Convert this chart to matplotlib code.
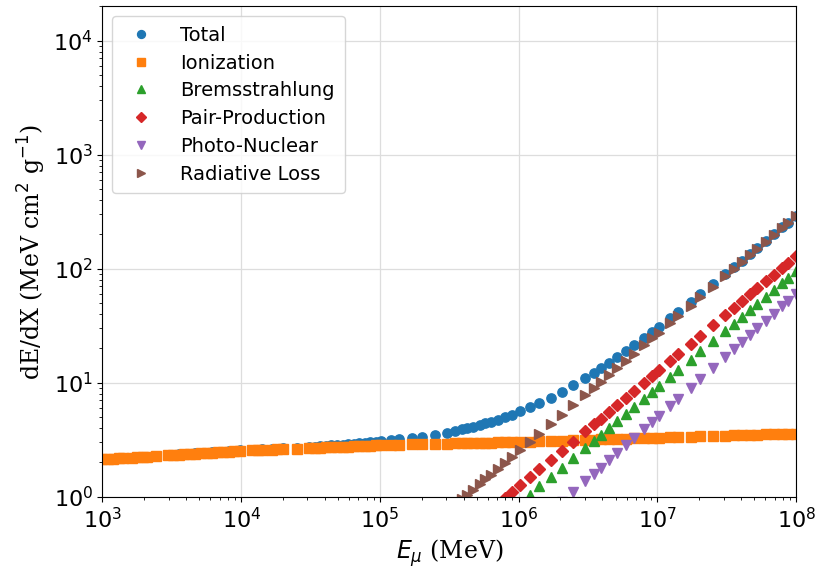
import matplotlib
matplotlib.use("Agg")
import matplotlib.pyplot as plt

# Muon energy (MeV)
E = [1.00e3, 1.10e3, 1.20e3, 1.32e3, 1.41e3, 1.62e3, 1.78e3, 1.95e3, 2.09e3, 2.45e3,
     2.95e3, 3.24e3, 3.55e3, 3.89e3, 4.27e3, 4.68e3, 5.13e3, 5.62e3, 6.17e3, 6.76e3,
     7.41e3, 8.13e3, 8.91e3, 9.77e3,
     1.20e4, 1.32e4, 1.41e4, 1.66e4, 1.82e4, 2.00e4, 2.51e4, 3.09e4, 3.39e4, 3.72e4,
     4.07e4, 4.47e4, 4.90e4, 5.37e4, 5.89e4, 6.46e4, 7.08e4, 7.76e4, 8.51e4, 9.33e4,
     1.02e5, 1.20e5, 1.38e5, 1.70e5, 2.00e5, 2.51e5, 3.02e5, 3.47e5, 3.89e5, 4.27e5,
     4.68e5, 5.25e5, 5.75e5, 6.31e5, 7.08e5, 7.94e5, 8.91e5,
     1.02e6, 1.20e6, 1.41e6, 1.70e6, 2.04e6, 2.45e6, 3.02e6, 3.47e6, 3.89e6, 4.47e6,
     5.13e6, 5.89e6, 6.76e6, 7.94e6, 9.12e6,
     1.02e7, 1.23e7, 1.41e7, 1.74e7, 2.04e7, 2.51e7, 3.09e7, 3.55e7, 4.07e7, 4.68e7,
     5.25e7, 6.03e7, 6.92e7, 7.94e7, 8.71e7, 1.00e8]

total = [2.13, 2.15, 2.16, 2.18, 2.19, 2.21, 2.23, 2.24, 2.25, 2.28,
         2.31, 2.33, 2.35, 2.36, 2.38, 2.40, 2.42, 2.43, 2.45, 2.47,
         2.49, 2.51, 2.53, 2.55,
         2.58, 2.59, 2.60, 2.63, 2.64, 2.66, 2.70, 2.74, 2.76, 2.78,
         2.80, 2.82, 2.85, 2.87, 2.90, 2.92, 2.95, 2.98, 3.01, 3.04,
         3.07, 3.13, 3.19, 3.28, 3.37, 3.51, 3.66, 3.78, 3.90, 4.00,
         4.11, 4.27, 4.40, 4.55, 4.76, 4.99, 5.25,
         5.60, 6.08, 6.65, 7.42, 8.35, 9.47, 11.00, 12.22, 13.37, 14.94,
         16.75, 18.84, 21.23, 24.51, 27.77,
         30.87, 36.65, 41.75, 50.93, 59.54, 72.91, 89.50, 102.65, 117.9, 135.4,
         152.0, 174.7, 200.9, 231.1, 253.8, 292.0]

ionization = [2.13, 2.14, 2.16, 2.17, 2.18, 2.21, 2.22, 2.24, 2.25, 2.28,
              2.31, 2.32, 2.34, 2.36, 2.37, 2.39, 2.41, 2.42, 2.44, 2.46,
              2.47, 2.49, 2.51, 2.52,
              2.55, 2.56, 2.57, 2.59, 2.60, 2.62, 2.65, 2.67, 2.69, 2.70,
              2.71, 2.72, 2.73, 2.75, 2.76, 2.77, 2.78, 2.80, 2.81, 2.82,
              2.83, 2.85, 2.86, 2.88, 2.89, 2.91, 2.92, 2.94, 2.95, 2.95,
              2.96, 2.97, 2.98, 2.99, 3.00, 3.01, 3.02,
              3.03, 3.05, 3.07, 3.09, 3.11, 3.13, 3.16, 3.17, 3.19, 3.20,
              3.22, 3.24, 3.25, 3.27, 3.29,
              3.31, 3.33, 3.34, 3.37, 3.39, 3.41, 3.44, 3.45, 3.47, 3.49,
              3.50, 3.52, 3.54, 3.55, 3.56, 3.58]

# radiative components (only the high-energy tail of E, where they exceed ~1)
bremsstrahlung = [0.772, 0.888, 1.047, 1.234, 1.489, 1.797, 2.169, 2.679, 3.085, 3.470,
                  3.995, 4.598, 5.294, 6.095, 7.185, 8.272,
                  9.303, 11.22, 12.92, 15.97, 18.82, 23.25, 28.72, 33.07, 38.07, 43.84,
                  49.29, 56.75, 65.35, 75.22, 82.64, 95.15]

pair_production = [0.774, 0.869, 0.976, 1.097,
                   1.261, 1.484, 1.746, 2.103, 2.533, 3.051, 3.762, 4.325, 4.859, 5.587,
                   6.424, 7.385, 8.490, 9.991, 11.49,
                   12.90, 15.54, 17.87, 22.03, 25.93, 31.97, 39.40, 45.31, 52.10, 59.90,
                   67.29, 77.35, 88.92, 102.2, 112.2, 129.0]

photo_nuclear = [0.737, 0.899, 1.096, 1.371, 1.592, 1.803, 2.093, 2.430, 2.821, 3.275,
                 3.898, 4.524,
                 5.124, 6.252, 7.259, 9.078, 10.80, 13.52, 16.90, 19.63, 22.79, 26.45,
                 29.95, 34.77, 40.36, 46.86, 51.76, 60.09]

radiative = [0.732, 0.844, 0.950, 1.044, 1.148, 1.293, 1.422, 1.563, 1.760, 1.982, 2.231,
             2.572, 3.036, 3.585, 4.335, 5.241, 6.336, 7.842, 9.043, 10.18, 11.74,
             13.53, 15.60, 17.98, 21.23, 24.48,
             27.56, 33.32, 38.41, 47.56, 56.15, 69.50, 86.06, 99.20, 114.4, 131.9,
             148.5, 171.2, 197.4, 227.5, 250.2, 288.4]

series = [
    ("Total", total, "o", "tab:blue", 6.7),
    ("Ionization", ionization, "s", "tab:orange", 6.5),
    ("Bremsstrahlung", bremsstrahlung, "^", "tab:green", 7.3),
    ("Pair-Production", pair_production, "D", "tab:red", 6.5),
    ("Photo-Nuclear", photo_nuclear, "v", "tab:purple", 7.3),
    ("Radiative Loss", radiative, ">", "tab:brown", 7.3),
]

fig = plt.figure(figsize=(8.2, 5.75), dpi=100)
ax = fig.add_axes([0.125, 0.136, 0.846, 0.853])

for label, vals, mk, col, ms in series:
    ax.plot(E[-len(vals):], vals, linestyle="none", marker=mk, color=col,
            markersize=ms, label=label)

ax.set_xscale("log")
ax.set_yscale("log")
ax.set_xlim(1e3, 1e8)
ax.set_ylim(1, 2e4)
ax.grid(True, which="major", color="#dddddd", linewidth=0.9)
ax.set_axisbelow(True)
ax.tick_params(axis="both", which="major", labelsize=16)

plt.rcParams["mathtext.fontset"] = "dejavuserif"
ax.set_xlabel(r"$E_\mu$ (MeV)", fontsize=17, family="DejaVu Serif")
ax.set_ylabel(r"dE/dX (MeV cm$^2$ g$^{-1}$)", fontsize=17, family="DejaVu Serif")

leg = ax.legend(loc="upper left", fontsize=14, frameon=True, handletextpad=1.0,
                borderpad=0.5, labelspacing=0.45, markerscale=0.85)

fig.savefig("out.png", dpi=100)
